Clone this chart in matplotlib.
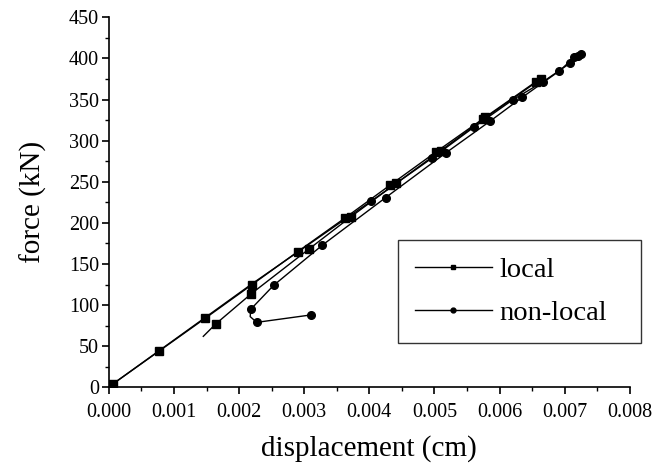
import matplotlib
matplotlib.use('Agg')
import matplotlib.pyplot as plt
from matplotlib.lines import Line2D
from matplotlib.ticker import MultipleLocator, FormatStrFormatter

# local model, first branch (from origin) and second branch
local_a_x = [0.00006, 0.00077, 0.00148, 0.00220, 0.00290, 0.00362, 0.00432, 0.00503, 0.00578, 0.00656]
local_a_y = [4, 44, 84, 125, 165, 205.6, 246, 286.6, 328.5, 371.8]
local_b_x = [0.00145, 0.00164, 0.00219, 0.00307, 0.00372, 0.00441, 0.00510, 0.00575, 0.00663]
local_b_y = [62, 77, 114, 168, 207.6, 248, 288, 326, 374.7]

# non-local model
nonlocal_a_x = [0.00006, 0.00220, 0.00403, 0.00496, 0.00560, 0.00620, 0.00667, 0.00708, 0.00720]
nonlocal_a_y = [4, 126, 226.6, 278.6, 316, 349.5, 371.8, 394, 403]
nonlocal_b_x = [0.00310, 0.00227, 0.00217, 0.00218, 0.00253, 0.00328, 0.00425, 0.00518,
                0.00586, 0.00635, 0.00692, 0.00715, 0.00725]
nonlocal_b_y = [88, 79, 86, 95, 124, 173, 230.7, 285.4, 324, 352.8, 384.8, 401.5, 405]

plt.rcParams['font.family'] = ['Liberation Serif', 'DejaVu Serif']

fig = plt.figure(figsize=(6.56, 4.68), dpi=100)
ax = fig.add_axes([0.166, 0.1724, 0.794, 0.7906])

lw = 1.0
ax.plot(local_a_x, local_a_y, color='black', lw=lw, marker='s', ms=6)
ax.plot(local_b_x, local_b_y, color='black', lw=lw, marker='s', ms=6,
        markevery=list(range(1, len(local_b_x))))
ax.plot(nonlocal_a_x, nonlocal_a_y, color='black', lw=lw, marker='o', ms=5.5,
        markevery=list(range(2, len(nonlocal_a_x))))
ax.plot(nonlocal_b_x, nonlocal_b_y, color='black', lw=lw, marker='o', ms=5.5,
        markevery=[i for i in range(len(nonlocal_b_x)) if i != 2])

ax.set_xlim(0, 0.008)
ax.set_ylim(0, 450)
ax.xaxis.set_major_locator(MultipleLocator(0.001))
ax.xaxis.set_minor_locator(MultipleLocator(0.0005))
ax.xaxis.set_major_formatter(FormatStrFormatter('%.3f'))
ax.yaxis.set_major_locator(MultipleLocator(50))
ax.yaxis.set_minor_locator(MultipleLocator(25))

ax.spines['top'].set_visible(False)
ax.spines['right'].set_visible(False)
ax.spines['left'].set_linewidth(1.2)
ax.spines['bottom'].set_linewidth(1.2)
ax.tick_params(which='major', direction='out', length=5, width=1.2, labelsize=14.5)
ax.tick_params(axis='x', which='major', pad=6)
ax.tick_params(axis='y', which='major', pad=2)
ax.tick_params(which='minor', direction='out', length=3, width=1.0)

ax.set_xlabel('displacement (cm)', fontsize=21, labelpad=10)
ax.set_ylabel('force (kN)', fontsize=21, labelpad=16)

handles = [Line2D([], [], color='black', lw=1, marker='s', ms=3.5),
           Line2D([], [], color='black', lw=1, marker='o', ms=3.5)]
leg = ax.legend(handles, ['local', 'non-local'], loc='lower left',
                bbox_to_anchor=(0.555, 0.12, 0.467, 0.265), mode='expand',
                fontsize=20.5, frameon=True, fancybox=False, handlelength=2.7,
                handletextpad=0.25, borderpad=0.6, labelspacing=0.6, borderaxespad=0)
leg.get_frame().set_edgecolor('black')
leg.get_frame().set_linewidth(1.0)
leg.set_clip_on(False)

fig.savefig('out.png', dpi=100)
